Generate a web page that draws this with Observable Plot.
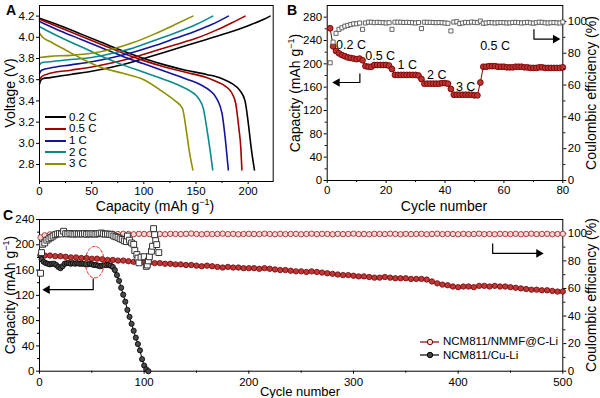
<!DOCTYPE html>
<html><head><meta charset="utf-8">
<script src="https://cdn.jsdelivr.net/npm/d3@7"></script>
<script src="https://cdn.jsdelivr.net/npm/@observablehq/plot@0.6"></script>
<style>
body{margin:0;background:#fff;}
#fig{position:relative;width:600px;height:398px;font-family:"Liberation Sans",Arial,Helvetica,sans-serif;color:#000;overflow:hidden;background:#fff;}
.t{position:absolute;white-space:nowrap;font-size:14px;line-height:1;transform:translate(-50%,-50%);}
.r{transform:translate(-50%,-50%) rotate(-90deg);}
.t sup{font-size:9px;line-height:0;vertical-align:6px;}
.lg{position:absolute;font-size:11.5px;line-height:1;white-space:nowrap;height:11px;}
</style></head><body><div id="fig"></div>
<script>
// ---------- Panel A data ----------
const rates = ["0.2 C","0.5 C","1 C","2 C","3 C"];
const rateColors = ["#000000","#a00000","#14149a","#0a8a8a","#8f8f00"];
const chargeCap = [
  [0,1,3,10,30,50,70,90,100,120,140,160,180,200,215,221],
  [0,2,10,30,50,70,90,110,130,150,170,185,197],
  [0,2,10,30,50,70,90,110,130,150,165,181],
  [0,2,10,30,50,70,90,110,130,150,166],
  [0,10,30,50,70,90,110,130,147]
];
const chargeV = [
  [3.56,3.59,3.61,3.62,3.65,3.68,3.72,3.77,3.80,3.86,3.92,3.98,4.04,4.11,4.17,4.20],
  [3.60,3.63,3.66,3.69,3.72,3.76,3.81,3.87,3.93,3.99,4.07,4.14,4.20],
  [3.66,3.69,3.71,3.74,3.77,3.81,3.86,3.92,3.99,4.06,4.12,4.20],
  [3.74,3.76,3.77,3.79,3.81,3.85,3.90,3.97,4.04,4.12,4.20],
  [3.81,3.82,3.83,3.85,3.89,3.95,4.03,4.12,4.20]
];
const dischargeCap = [
  [0,20,40,60,80,100,120,140,160,175,185,192,197,200,203,206],
  [0,20,40,60,80,100,120,140,160,170,178,184,188,191,193,194],
  [0,20,40,60,80,100,120,140,155,163,170,175,178,180,181],
  [0,20,40,60,80,100,120,135,145,152,157,161,164,166],
  [0,3,10,25,40,58,80,100,119,130,137,141,144,147]
];
const dischargeV = [
  [4.18,4.11,4.03,3.95,3.87,3.80,3.74,3.69,3.65,3.61,3.56,3.50,3.40,3.20,2.95,2.75],
  [4.17,4.09,4.01,3.93,3.85,3.78,3.72,3.67,3.62,3.58,3.54,3.48,3.38,3.15,2.95,2.75],
  [4.15,4.06,3.98,3.90,3.82,3.75,3.68,3.61,3.55,3.50,3.42,3.28,3.05,2.85,2.75],
  [4.10,4.00,3.91,3.82,3.74,3.67,3.60,3.54,3.49,3.43,3.33,3.10,2.90,2.75],
  [4.04,4.00,3.96,3.88,3.80,3.72,3.66,3.60,3.48,3.40,3.33,3.10,2.90,2.75]
];
const aXTicks = [0,50,100,150,200];
const aXMinor = [25,75,125,175];
const aYTicks = [2.8,3.0,3.2,3.4,3.6,3.8,4.0,4.2];

// ---------- Panel B data ----------
const bCycles = d3.range(1, 81);
const bCapacity = [261,230,222,218,215,213,211,210,209,208,209,206,
  196,195,195,198,198,198,198,198,197,191,
  181,181,181,181,181,181,181,181,180,174,
  166,166,166,166,166,166,167,167,166,157,
  147,147,147,147,147,147,147,146,146,168,
  195,195,196,196,196,195,195,195,194,194,194,195,195,195,194,194,193,193,193,194,194,193,193,193,193,193,193,194];
const bCE = [74,87,92.5,95,96,97,97.5,98,98.5,98.5,99,95,
  99,99.5,99.5,99.2,99.4,99.3,99.2,99,99.2,95,
  99.5,99.5,99.5,99.3,99.4,99.3,99.2,99,99.3,95.5,
  99.5,99.4,99.4,99.3,99.2,99.3,99.2,99,98.8,94,
  99.6,99.8,98.6,99,99.4,99.2,99.6,99.4,99.2,100.2,
  98.8,99,99.3,99.2,99,99.2,99.3,99.2,99,99.1,99.3,99.4,99.2,99,99.2,99.4,99.1,98.9,99.2,99.5,99.4,99.1,99,99.2,99.3,99.1,99,99.6];
const bRateText = ["0.2 C","0.5 C","1 C","2 C","3 C","0.5 C"];
const bRateX = [8.1, 18, 27.2, 37.2, 47, 57];
const bRateY = [233, 213, 198, 181, 160.5, 230.5];
const bArrowLeftX = [11.1, 11.1, 3.4];
const bArrowLeftY = [183, 168, 168];
const bArrowRightX = [70.2, 70.2, 77.5];
const bArrowRightY = [94.8, 88.9, 88.9];

// ---------- Panel C data ----------
const seriesNames = ["NCM811/NMMF@C-Li", "NCM811/Cu-Li"];
const nmmfCycles = [1].concat(d3.range(5, 501, 5));
const nmmfCapacity = [184,183,183,182,182,181,180,180,179,179,178,178,177,176,176,175,175,174,173,173,172,
  172,171,171,170,170,169,169,168,168,167,166,167,166,165,164,165,164,164,163,163,
  163,162,163,162,161,160,160,159,158,158,157,158,157,156,155,154,153,152,152,151,
  150,150,149,148,148,149,148,147,147,147,146,146,146,145,142,139,137,136,134,133,
  134,134,133,135,135,134,135,134,134,133,132,131,130,129,129,128,128,127,126,126];
const nmmfCE = [97.0,98.5,99.2,99.4,99.6,99.5,99.3,99.6,99.7,99.4,99.5,99.6,99.3,99.5,99.7,99.4,99.6,99.5,99.3,99.6,99.5,
  99.4,99.7,99.5,99.3,99.6,99.5,99.4,99.6,99.8,99.5,99.3,99.6,99.4,99.5,99.7,99.4,99.6,99.3,99.5,99.6,
  99.5,99.4,99.7,99.5,99.3,99.6,99.4,99.5,99.6,99.3,99.5,99.7,99.4,99.6,99.5,99.3,99.6,99.4,99.5,99.7,
  99.4,99.5,99.3,99.6,99.5,99.4,99.7,99.5,99.3,99.6,99.4,99.5,99.6,99.3,99.5,99.7,99.4,99.6,99.5,99.3,
  99.6,99.4,99.5,99.7,99.4,99.5,99.3,99.6,99.5,99.4,99.6,99.3,99.5,99.7,99.4,99.5,99.6,99.3,99.5,99.6];
const cuCycles = [1].concat(d3.range(2, 105, 2));
const cuCapacity = [183,177,173,171,170,169,170,170,168,165,163,166,170,171,171,170,171,170,171,170,170,
  170,169,169,170,169,168,168,167,166,167,168,168,168,167,165,160,152,143,132,121,
  110,97,86,75,64,53,43,33,19,9,3,0];
const cuCECycles = [1,2,3,5,7,9,11,13,15,17,19,21,23,25,27,29,31,33,35,37,39,41,43,45,47,49,51,53,55,57,59,61,63,65,67,69,
  71,73,75,77,79,81,83,84,86,88,90,91,93,94,95,97,100,102,103,104,105,107,108,109,110,111,112,114];
const cuCE = [71,86,92,93,95,96,97,98,99,99.5,99.8,99.5,101.5,99.8,99.5,99.8,99.6,99.4,99.7,99.5,99.6,99.5,99.8,99.3,99.6,99.5,99.7,99.4,99.6,99.8,100.2,99.6,99.4,99.5,99.3,99,
  98,97.5,97,96,95.5,94.5,94,98,95,93,92,87.5,84.6,82,78.6,82.7,83,76,77,80,83,87,90.6,103.4,99,94.7,91.8,86];
const cArrowLeftX = [51.3, 51.3, 7.4];
const cArrowLeftY = [146, 129, 129];
const cArrowRightX = [433, 433, 477];
const cArrowRightY = [92.3, 85.4, 85.4];
const cEllipse = {cx: 52.8, cy: 172.5, rx: 9, ry: 25};

// ---------- helpers ----------
const font = "'Liberation Sans', Arial, Helvetica, sans-serif";
const baseStyle = {fontFamily: font, fontSize: "11.5px", color: "#000", background: "transparent", overflow: "visible"};
const fig = document.getElementById("fig");
function place(svg, left, top) {
  svg.style.position = "absolute"; svg.style.left = left + "px"; svg.style.top = top + "px";
  fig.appendChild(svg);
}
function label(html, x, y, rot, size, bold) {
  const d = document.createElement("div");
  d.className = "t" + (rot ? " r" : "");
  d.style.left = x + "px"; d.style.top = y + "px";
  if (size) d.style.fontSize = size + "px";
  if (bold) d.style.fontWeight = "bold";
  d.innerHTML = html; fig.appendChild(d);
}
const blank = () => "";
function arrowMarks(xs, ys, dir) {
  const pts = xs.map((x, i) => ({x, y: ys[i]}));
  return [
    Plot.line(pts, {x: "x", y: "y", stroke: "#000", strokeWidth: 1.2}),
    Plot.dot([pts[pts.length - 1]], {x: "x", y: "y", symbol: "triangle", r: 3.2, fill: "#000", rotate: dir})
  ];
}

// ---------- Panel A ----------
const rowsA = [];
rates.forEach((r, i) => {
  chargeCap[i].forEach((c, j) => rowsA.push({rate: r, kind: "c", cap: c, v: chargeV[i][j]}));
  dischargeCap[i].forEach((c, j) => rowsA.push({rate: r, kind: "d", cap: c, v: dischargeV[i][j]}));
});
const plotA = Plot.plot({
  width: 300, height: 210, marginLeft: 39, marginRight: 27.3, marginTop: 5, marginBottom: 29,
  style: baseStyle,
  x: {domain: [0, 224]}, y: {domain: [2.64, 4.30]},
  color: {domain: rates, range: rateColors},
  marks: [
    Plot.line(rowsA, {x: "cap", y: "v", z: d => d.rate + d.kind, stroke: "rate", strokeWidth: 1.6, curve: "monotone-x"}),
    Plot.frame({stroke: "#000"}),
    Plot.axisX({ticks: aXTicks, tickSize: 3, tickPadding: 2, label: null}),
    Plot.axisX({ticks: aXMinor, tickSize: 2, tickFormat: blank, label: null}),
    Plot.axisY({ticks: aYTicks, tickSize: 3, tickPadding: 2, tickFormat: d3.format(".1f"), label: null})
  ]
});
place(plotA, 0, 0);

// ---------- Panel B ----------
const rowsB = bCycles.map((c, i) => ({c, cap: bCapacity[i], ce: bCE[i]}));
const bTextRows = bRateText.map((t, i) => ({t, x: bRateX[i], y: bRateY[i]}));
const bDims = {width: 310, height: 210, marginLeft: 36.7, marginRight: 37.7, marginTop: 5, marginBottom: 30};
const plotB = Plot.plot({
  ...bDims, style: baseStyle,
  x: {domain: [0, 80]}, y: {domain: [0, 300]},
  marks: [
    Plot.frame({stroke: "#000"}),
    Plot.axisX({ticks: [0,20,40,60,80], tickSize: 3, tickPadding: 2, label: null}),
    Plot.axisX({ticks: [10,30,50,70], tickSize: 2, tickFormat: blank, label: null}),
    Plot.axisY({ticks: d3.range(0, 281, 40), tickSize: 3, tickPadding: 2, label: null}),
    Plot.axisY({ticks: d3.range(20, 281, 40), tickSize: 2, tickFormat: blank, label: null}),
    Plot.line(rowsB, {x: "c", y: "cap", stroke: "#8b0000", strokeWidth: 1}),
    Plot.dot(rowsB, {x: "c", y: "cap", r: 2.9, fill: "#b93535", stroke: "#7a0000", strokeWidth: 0.9}),
    Plot.text(bTextRows, {x: "x", y: "y", text: "t", fontSize: 12.5, fill: "#000"}),
    ...arrowMarks(bArrowLeftX, bArrowLeftY, -90)
  ]
});
place(plotB, 290, 0);
const plotB2 = Plot.plot({
  ...bDims, style: baseStyle,
  x: {domain: [0, 80], axis: null}, y: {domain: [0, 110]},
  marks: [
    Plot.axisY({anchor: "right", ticks: d3.range(0, 101, 20), tickSize: 3, tickPadding: 2, label: null}),
    Plot.axisY({anchor: "right", ticks: d3.range(10, 100, 20), tickSize: 2, tickFormat: blank, label: null}),
    Plot.dot(rowsB, {x: "c", y: "ce", symbol: "square", r: 2.3, fill: "#fff", stroke: "#555", strokeWidth: 0.9}),
    ...arrowMarks(bArrowRightX, bArrowRightY, 90)
  ]
});
place(plotB2, 290, 0);

// ---------- Panel C ----------
const nmmfRows = nmmfCycles.map((c, i) => ({c, cap: nmmfCapacity[i], ce: nmmfCE[i]}));
const cuRows = cuCycles.map((c, i) => ({c, cap: cuCapacity[i]}));
const cuCERows = cuCECycles.map((c, i) => ({c, ce: cuCE[i]}));
const ellipsePts = d3.range(0, 361, 8).map(a => ({
  x: cEllipse.cx + cEllipse.rx * Math.cos(a * Math.PI / 180),
  y: cEllipse.cy + cEllipse.ry * Math.sin(a * Math.PI / 180)
}));
const cDims = {width: 600, height: 193, marginLeft: 39, marginRight: 37.7, marginTop: 14, marginBottom: 27.3};
const plotC = Plot.plot({
  ...cDims, style: baseStyle,
  x: {domain: [0, 500]}, y: {domain: [0, 240]},
  marks: [
    Plot.frame({stroke: "#000"}),
    Plot.axisX({ticks: d3.range(0, 501, 100), tickSize: 3, tickPadding: 3.8, label: null}),
    Plot.axisX({ticks: d3.range(50, 500, 100), tickSize: 2, tickFormat: blank, label: null}),
    Plot.axisY({ticks: d3.range(0, 241, 40), tickSize: 3, tickPadding: 2, label: null}),
    Plot.axisY({ticks: d3.range(20, 240, 40), tickSize: 2, tickFormat: blank, label: null}),
    Plot.line(nmmfRows, {x: "c", y: "cap", stroke: "#8b0000", strokeWidth: 1}),
    Plot.dot(nmmfRows, {x: "c", y: "cap", r: 2.7, fill: "#b83a3a", stroke: "#7a0000", strokeWidth: 0.8}),
    Plot.line(cuRows, {x: "c", y: "cap", stroke: "#000", strokeWidth: 1}),
    Plot.dot(cuRows, {x: "c", y: "cap", r: 2.6, fill: "#4a4a4a", stroke: "#000", strokeWidth: 0.8}),
    Plot.line(ellipsePts, {x: "x", y: "y", stroke: "#e41a1a", strokeWidth: 1, strokeDasharray: "3,2", curve: "catmull-rom"}),
    ...arrowMarks(cArrowLeftX, cArrowLeftY, -90)
  ]
});
place(plotC, 0, 205);
const plotC2 = Plot.plot({
  ...cDims, style: baseStyle,
  x: {domain: [0, 500], axis: null}, y: {domain: [0, 110]},
  marks: [
    Plot.axisY({anchor: "right", ticks: d3.range(0, 101, 20), tickSize: 3, tickPadding: 2, label: null}),
    Plot.axisY({anchor: "right", ticks: d3.range(10, 100, 20), tickSize: 2, tickFormat: blank, label: null}),
    Plot.dot(nmmfRows, {x: "c", y: "ce", r: 2.7, fill: "#f3d8d8", stroke: "#a52a2a", strokeWidth: 0.9}),
    Plot.dot(cuCERows, {x: "c", y: "ce", symbol: "square", r: 3.3, fill: "#fff", stroke: "#333", strokeWidth: 1}),
    ...arrowMarks(cArrowRightX, cArrowRightY, 90)
  ]
});
place(plotC2, 0, 205);

// ---------- titles ----------
const capTitle = "Capacity (mAh g<sup>\u22121</sup>)";
label("A", 11, 10, false, 14, true);
label("B", 292, 10, false, 14, true);
label("C", 8, 215, false, 14, true);
label(capTitle, 155, 206);
label("Voltage (V)", 10, 93, true);
label("Cycle number", 444, 206);
label(capTitle, 294.5, 93, true);
label("Coulombic efficiency (%)", 591, 93, true);
label("Cycle number", 300, 391, false, 13);
label(capTitle, 10, 295, true);
label("Coulombic efficiency (%)", 591, 295, true);

// ---------- legends ----------
const rowYA = [117, 128.7, 140.3, 152, 163.5];
rates.forEach((r, i) => {
  const d = document.createElement("div");
  d.className = "lg";
  d.style.left = "45px"; d.style.top = (rowYA[i] - 5.5) + "px";
  d.innerHTML = `<svg width="21" height="10" style="vertical-align:middle"><line x1="0" x2="21" y1="5" y2="5" stroke="${rateColors[i]}" stroke-width="2"/></svg><span style="margin-left:3px;vertical-align:middle">${r}</span>`;
  fig.appendChild(d);
});
const legC = [{name: seriesNames[0], line: "#8b0000", fill: "#f3d8d8", stroke: "#8b0000"},
              {name: seriesNames[1], line: "#000", fill: "#444", stroke: "#000"}];
const rowYC = [341.7, 355];
legC.forEach((s, i) => {
  const d = document.createElement("div");
  d.className = "lg";
  d.style.left = "420px"; d.style.top = (rowYC[i] - 5.5) + "px";
  d.innerHTML = `<svg width="19" height="10" style="vertical-align:middle"><line x1="0" x2="19" y1="5" y2="5" stroke="${s.line}" stroke-width="1.2"/><circle cx="10" cy="5" r="2.7" fill="${s.fill}" stroke="${s.stroke}"/></svg><span style="margin-left:4px;vertical-align:middle">${s.name}</span>`;
  fig.appendChild(d);
});
</script></body></html>
